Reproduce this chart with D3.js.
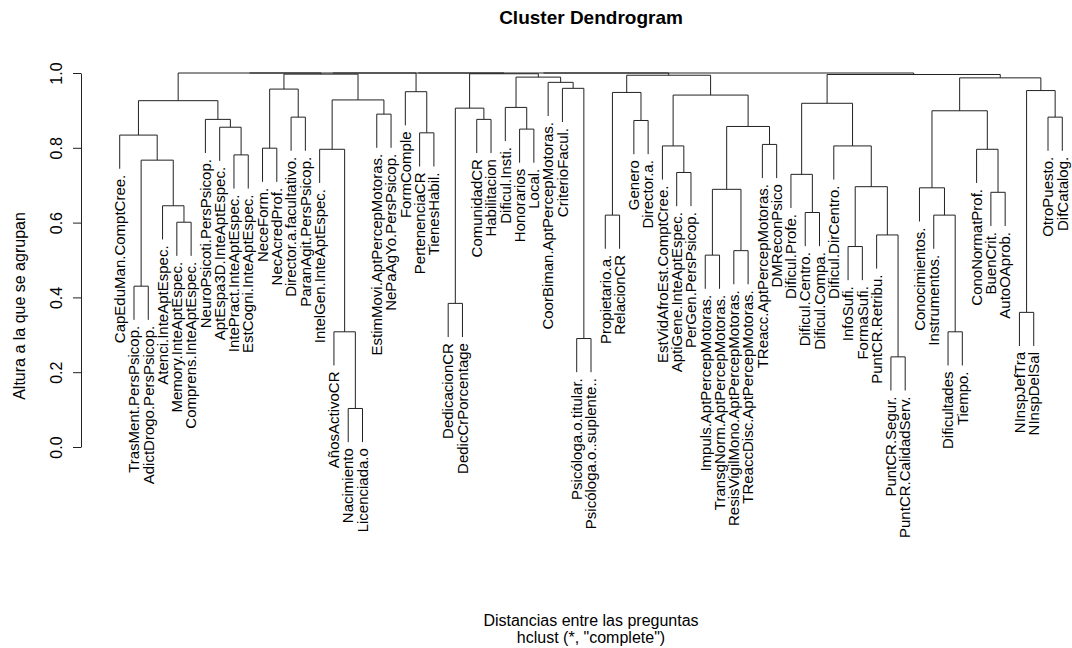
<!DOCTYPE html>
<html>
<head>
<meta charset="utf-8">
<script src="https://cdn.jsdelivr.net/npm/d3@7"></script>
<style>
  body { margin: 0; background: #fff; }
  text { font-family: "Liberation Sans", Arial, sans-serif; fill: #000; }
</style>
</head>
<body>
<div id="plot"></div>
<script>
// leaves, left to right as they appear under the tree
var leafLabels = [
  "CapEduMan.ComptCree.", "TrasMent.PersPsicop.", "AdictDrogo.PersPsicop.", "Atenci.InteAptEspec.",
  "Memory.InteAptEspec.", "Comprens.InteAptEspec.", "NeuroPsicoti.PersPsicop.", "AptEspa3D.InteAptEspec.",
  "IntePract.InteAptEspec.", "EstCogni.InteAptEspec.", "NeceForm.", "NecAcredProf.",
  "Director.a.facultativo.", "ParanAgit.PersPsicop.", "IntelGen.InteAptEspec.", "AñosActivoCR",
  "Nacimiento", "Licenciada.o", "EstimMovi.AptPercepMotoras.", "NePaAgYo.PersPsicop.",
  "FormComple", "PertenenciaCR", "TienesHabil.", "DedicacionCR",
  "DedicCrPorcentage", "ComunidadCR", "Habilitacion", "Dificul.Insti.",
  "Honorarios", "Local.", "CoorBiman.AptPercepMotoras.", "CriterioFacul.",
  "Psicóloga.o.titular.", "Psicóloga.o..suplente..", "Propietario.a.", "RelacionCR",
  "Genero", "Director.a.", "EstVidAfroEst.ComptCree.", "AptiGene.InteAptEspec.",
  "PerGen.PersPsicop.", "Impuls.AptPercepMotoras.", "TransgNorm.AptPercepMotoras.", "ResisVigilMono.AptPercepMotoras.",
  "TReaccDisc.AptPercepMotoras.", "TReacc.AptPercepMotoras.", "DMReconPsico", "Dificul.Profe.",
  "Dificul.Centro.", "Dificul.Compa.", "Dificul.DirCentro.", "InfoSufi.",
  "FormaSufi.", "PuntCR.Retribu.", "PuntCR.Segur.", "PuntCR.CalidadServ.",
  "Conocimientos.", "Instrumentos.", "Dificultades", "Tiempo.",
  "ConoNormatProf.", "BuenCrit.", "AutoOAprob.", "NInspJefTra",
  "NInspDelSal", "OtroPuesto.", "DifCatalog."
];

// merge table like hclust: negative = leaf number, positive = earlier merge row
var mergeLeft = [
  -2, -5, -4, 1, -1, -9, -8, -7, 5, -11,
  -13, 10, -17, -16, -15, -19, 15, 12, -22, -21,
  -24, -26, 21, -29, -28, -33, -32, -31, 25, 23,
  -35, -37, 31, -40, -39, -42, -44, 36, -46, 38,
  35, 33, -49, -48, -52, -55, -54, 45, -51, 44,
  -59, -58, -57, -62, -61, 53, -64, -66, 57, 56,
  50, 9, 62, 63, 64, 65
];
var mergeRight = [
  -3, -6, 2, 3, 4, -10, 6, 7, 8, -12,
  -14, 11, -18, 13, 14, -20, 16, 17, -23, 19,
  -25, -27, 22, -30, 24, -34, 26, 27, 28, 29,
  -36, -38, 32, -41, 34, -43, -45, 37, -47, 39,
  40, 41, -50, 43, -53, -56, 46, 47, 48, 49,
  -60, 51, 52, -63, 54, 55, -65, -67, 58, 59,
  60, 18, 20, 30, 42, 61
];
var mergeHeight = [
  0.430, 0.601, 0.645, 0.767, 0.834, 0.781, 0.855, 0.876, 0.926, 0.799,
  0.882, 0.957, 0.103, 0.308, 0.796, 0.890, 0.928, 0.997, 0.840, 0.950,
  0.384, 0.876, 0.906, 0.850, 0.908, 0.290, 0.959, 0.975, 0.989, 0.998,
  0.620, 0.873, 0.948, 0.734, 0.805, 0.513, 0.525, 0.689, 0.809, 0.857,
  0.941, 0.994, 0.627, 0.729, 0.536, 0.241, 0.567, 0.696, 0.805, 0.919,
  0.308, 0.620, 0.693, 0.681, 0.796, 0.899, 0.360, 0.882, 0.953, 0.987,
  0.996, 1.000, 1.000, 1.000, 1.000, 1.000
];

var yTicks = [0, 0.2, 0.4, 0.6, 0.8, 1.0];
var hang = 0.09;

var width = 1072, height = 648;
var svg = d3.select("#plot").append("svg")
  .attr("width", width)
  .attr("height", height);

// build the nested tree from the merge rows
var built = [];
function nodeOf(ref) {
  return ref < 0 ? { name: leafLabels[-ref - 1], leaf: -ref } : built[ref - 1];
}
mergeHeight.forEach(function (h, i) {
  built.push({ h: h, children: [nodeOf(mergeLeft[i]), nodeOf(mergeRight[i])] });
});
var root = d3.hierarchy(built[built.length - 1]);

// scales, R style 4% padding on x
var n = leafLabels.length, pad = 0.04 * (n - 1);
var x = d3.scaleLinear().domain([1 - pad, n + pad]).range([82, 1100]);
var y = d3.scaleLinear().domain([0, 1]).range([447, 73]);

root.eachAfter(function (d) {
  d.px = d.children ? (d.children[0].px + d.children[1].px) / 2 : x(d.data.leaf);
});

// branches
var g = svg.append("g");
root.descendants().filter(function (d) { return d.children; }).forEach(function (d) {
  var yh = y(d.data.h);
  var a = d.children[0], b = d.children[1];
  var ya = a.children ? y(a.data.h) : y(d.data.h - hang);
  var yb = b.children ? y(b.data.h) : y(d.data.h - hang);
  g.append("path")
    .attr("d", "M" + a.px + "," + ya + "V" + yh + "H" + b.px + "V" + yb)
    .attr("fill", "none")
    .attr("stroke", "#222")
    .attr("stroke-width", 1);
});

// leaf labels
root.leaves().forEach(function (d) {
  var yEnd = y(d.parent.data.h - hang);
  svg.append("text")
    .attr("transform", "translate(" + d.px + "," + (yEnd + 6) + ") rotate(-90)")
    .attr("text-anchor", "end")
    .attr("dy", "0.35em")
    .style("font-size", "15px")
    .text(d.data.name);
});

// y axis
var yAxis = svg.append("g")
  .attr("transform", "translate(81,0)")
  .call(d3.axisLeft(y).tickValues(yTicks).tickFormat(d3.format(".1f")).tickSize(8).tickSizeOuter(0));
yAxis.select(".domain").attr("stroke", "#222");
yAxis.selectAll(".tick line").attr("stroke", "#222");
yAxis.selectAll(".tick text")
  .attr("x", null).attr("dy", null)
  .attr("transform", "translate(-19,0) rotate(-90)")
  .attr("text-anchor", "middle")
  .style("font-size", "16px")
  .style("font-family", "'Liberation Sans', Arial, sans-serif");

// titles
svg.append("text")
  .attr("x", 591).attr("y", 24)
  .attr("text-anchor", "middle")
  .style("font-size", "19px").style("font-weight", "bold")
  .text("Cluster Dendrogram");
svg.append("text")
  .attr("transform", "translate(25,306) rotate(-90)")
  .attr("text-anchor", "middle")
  .style("font-size", "16px")
  .text("Altura a la que se agrupan");
svg.append("text")
  .attr("x", 591).attr("y", 626)
  .attr("text-anchor", "middle")
  .style("font-size", "16px")
  .text("Distancias entre las preguntas");
svg.append("text")
  .attr("x", 591).attr("y", 643)
  .attr("text-anchor", "middle")
  .style("font-size", "16px")
  .text("hclust (*, \"complete\")");
</script>
</body>
</html>
